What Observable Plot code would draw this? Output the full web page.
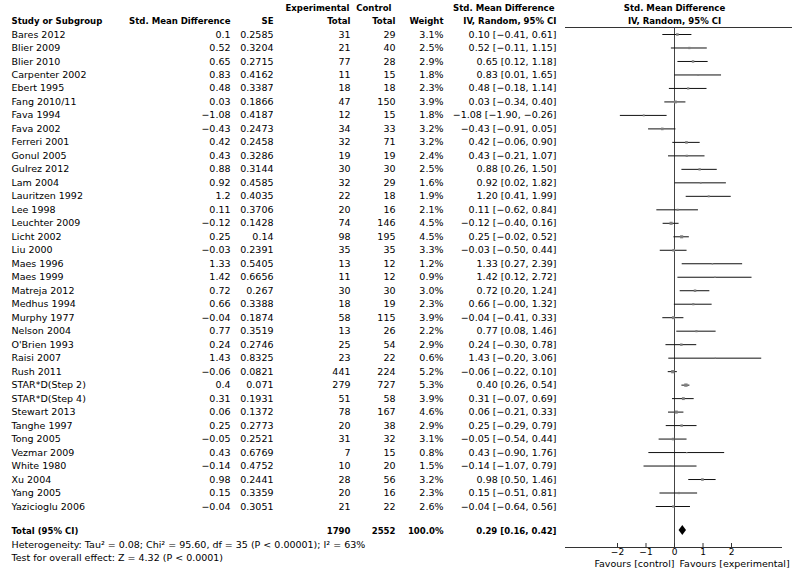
<!DOCTYPE html>
<html><head><meta charset="utf-8">
<script src="https://cdn.jsdelivr.net/npm/d3@7"></script>
<script src="https://cdn.jsdelivr.net/npm/@observablehq/plot@0.6"></script>
<style>html,body{margin:0;padding:0;background:#fff} svg{display:block}</style>
</head><body><div id="chart"></div>
<script>
// ---------- data ----------
const studies = ["Bares 2012","Blier 2009","Blier 2010","Carpenter 2002","Ebert 1995","Fang 2010/11","Fava 1994","Fava 2002","Ferreri 2001","Gonul 2005","Gulrez 2012","Lam 2004","Lauritzen 1992","Lee 1998","Leuchter 2009","Licht 2002","Liu 2000","Maes 1996","Maes 1999","Matreja 2012","Medhus 1994","Murphy 1977","Nelson 2004","O'Brien 1993","Raisi 2007","Rush 2011","STAR*D(Step 2)","STAR*D(Step 4)","Stewart 2013","Tanghe 1997","Tong 2005","Vezmar 2009","White 1980","Xu 2004","Yang 2005","Yazicioglu 2006"];
const smd = [0.1,0.52,0.65,0.83,0.48,0.03,-1.08,-0.43,0.42,0.43,0.88,0.92,1.2,0.11,-0.12,0.25,-0.03,1.33,1.42,0.72,0.66,-0.04,0.77,0.24,1.43,-0.06,0.4,0.31,0.06,0.25,-0.05,0.43,-0.14,0.98,0.15,-0.04];
const se = [0.2585,0.3204,0.2715,0.4162,0.3387,0.1866,0.4187,0.2473,0.2458,0.3286,0.3144,0.4585,0.4035,0.3706,0.1428,0.14,0.2391,0.5405,0.6656,0.267,0.3388,0.1874,0.3519,0.2746,0.8325,0.0821,0.071,0.1931,0.1372,0.2773,0.2521,0.6769,0.4752,0.2441,0.3359,0.3051];
const expTotal = [31,21,77,11,18,47,12,34,32,19,30,32,22,20,74,98,35,13,11,30,18,58,13,25,23,441,279,51,78,20,31,7,10,28,20,21];
const ctrlTotal = [29,40,28,15,18,150,15,33,71,19,30,29,18,16,146,195,35,12,12,30,19,115,26,54,22,224,727,58,167,38,32,15,20,56,16,22];
const weight = [3.1,2.5,2.9,1.8,2.3,3.9,1.8,3.2,3.2,2.4,2.5,1.6,1.9,2.1,4.5,4.5,3.3,1.2,0.9,3.0,2.3,3.9,2.2,2.9,0.6,5.2,5.3,3.9,4.6,2.9,3.1,0.8,1.5,3.2,2.3,2.6];
const ciLow = [-0.41,-0.11,0.12,0.01,-0.18,-0.34,-1.90,-0.91,-0.06,-0.21,0.26,0.02,0.41,-0.62,-0.40,-0.02,-0.50,0.27,0.12,0.20,-0.004,-0.41,0.08,-0.30,-0.20,-0.22,0.26,-0.07,-0.21,-0.29,-0.54,-0.90,-1.07,0.50,-0.51,-0.64];
const ciHigh = [0.61,1.15,1.18,1.65,1.14,0.40,-0.26,0.05,0.90,1.07,1.50,1.82,1.99,0.84,0.16,0.52,0.44,2.39,2.72,1.24,1.32,0.33,1.46,0.78,3.06,0.10,0.54,0.69,0.33,0.79,0.44,1.76,0.79,1.46,0.81,0.56];

const totalLabel = "Total (95% CI)";
const totalExp = 1790, totalCtrl = 2552, totalWeight = 100.0;
const totalEst = 0.29, totalLow = 0.16, totalHigh = 0.42;
const heterogeneity = "Heterogeneity: Tau\u00B2 = 0.08; Chi\u00B2 = 95.60, df = 35 (P < 0.00001); I\u00B2 = 63%";
const overallTest = "Test for overall effect: Z = 4.32 (P < 0.0001)";
const xTicks = [-2, -1, 0, 1, 2];
const favoursLeft = "Favours [control]";
const favoursRight = "Favours [experimental]";
const headTop = ["Experimental", "Control", "Std. Mean Difference", "Std. Mean Difference"];
const headBottom = ["Study or Subgroup", "Std. Mean Difference", "SE", "Total", "Total", "Weight", "IV, Random, 95% CI", "IV, Random, 95% CI"];

// ---------- layout ----------
const W = 792, H = 573, ML = 565, MR = 11, MT = 27, MB = 26;
const FONT = "DejaVu Sans", FS = 9.5;
const BOLDFONT = "'DejaVu Sans Condensed', 'DejaVu Sans'";
const colName = 11, colSmd = 230, colSe = 273, colExp = 350, colCtrl = 395, colW = 443, colCi = 556;
const off = x => x - ML;
const minus = "\u2212";
const fmt2 = v => (v < 0 ? minus : "") + Math.abs(v).toFixed(2);
const raw = v => (v < 0 ? minus : "") + String(Math.abs(v));
const ciText = (e, l, h) => `${fmt2(e)} [${fmt2(l)}, ${fmt2(h)}]`;

const rows = studies.map((s, i) => ({
  i, study: s, smd: smd[i], se: se[i], exp: expTotal[i], ctrl: ctrlTotal[i],
  w: weight[i], lo: ciLow[i], hi: ciHigh[i]
}));
const totalRow = studies.length;       // row index of the Total line
const totalShift = 10.5;               // extra gap before Total (px)
const total = [{i: totalRow, label: totalLabel, exp: totalExp, ctrl: totalCtrl, w: totalWeight, est: totalEst, lo: totalLow, hi: totalHigh}];

const col = (data, x, text, extra = {}) => Plot.text(data, {
  y: "i", text, frameAnchor: "left", dx: off(x),
  textAnchor: extra.anchor || "end", fontSize: FS, fill: "#000", ...extra
});
const bold = {fontWeight: "bold", fontFamily: BOLDFONT};

const headerCol = (label, row, x, anchor = "end") => Plot.text([label], {
  y: () => row, text: d => d, frameAnchor: "left", dx: off(x), textAnchor: anchor,
  fontSize: FS, fill: "#000", ...bold
});
const headerCenter = (label, row) => Plot.text([label], {
  y: () => row, x: () => 0, text: d => d, textAnchor: "middle",
  fontSize: FS, fill: "#000", ...bold
});

const d = 0.37; // diamond half-height in rows
const diamond = [
  {y: totalRow - d, x1: totalEst, x2: totalEst},
  {y: totalRow, x1: totalLow, x2: totalHigh},
  {y: totalRow + d, x1: totalEst, x2: totalEst}
];

const chart = Plot.plot({
  width: W, height: H,
  marginLeft: ML, marginRight: MR, marginTop: MT, marginBottom: MB,
  style: {fontFamily: FONT, fontSize: FS + "px", background: "#fff", color: "#000"},
  x: {domain: [-3.825, 3.754], axis: null},
  y: {domain: [0, studies.length - 1], range: [34, 506], axis: null},
  r: {range: [0, 1.9]},
  marks: [
    Plot.frame({anchor: "top", insetRight: -MR, stroke: "#333"}),
    Plot.frame({anchor: "bottom", stroke: "#333"}),
    Plot.ruleX([0], {stroke: "#444"}),
    // confidence intervals and point estimates
    Plot.ruleY(rows, {y: "i", x1: "lo", x2: "hi", stroke: "#111", strokeWidth: 1}),
    Plot.dot(rows, {x: "smd", y: "i", r: "w", symbol: "square", fill: "#808080", stroke: null}),
    Plot.areaX(diamond, {y: "y", x1: "x1", x2: "x2", dy: totalShift, fill: "#000", curve: "linear"}),
    // axis
    Plot.axisX({ticks: xTicks, tickSize: 4, dy: -4, tickPadding: 1, fontSize: 9, stroke: "#333", fill: "#000",
      tickFormat: v => (v < 0 ? minus : "") + Math.abs(v)}),
    Plot.text([favoursLeft], {x: () => 0, text: d => d, frameAnchor: "bottom", dy: 19, dx: 0, textAnchor: "end", fontSize: FS, fill: "#000"}),
    Plot.text([favoursRight], {x: () => 0, text: d => d, frameAnchor: "bottom", dy: 19, dx: 5, textAnchor: "start", fontSize: FS, fill: "#000"}),
    // headers
    headerCol(headTop[0], -2, 349),
    headerCol(headTop[1], -2, 391),
    headerCol(headTop[2], -2, 554),
    headerCenter(headTop[3], -2),
    headerCol(headBottom[0], -1, colName, "start"),
    headerCol(headBottom[1], -1, colSmd),
    headerCol(headBottom[2], -1, colSe),
    headerCol(headBottom[3], -1, colExp),
    headerCol(headBottom[4], -1, colCtrl),
    headerCol(headBottom[5], -1, colW),
    headerCol(headBottom[6], -1, colCi),
    headerCenter(headBottom[7], -1),
    // table rows
    col(rows, colName, "study", {anchor: "start"}),
    col(rows, colSmd, d => raw(d.smd)),
    col(rows, colSe, d => String(d.se)),
    col(rows, colExp, d => String(d.exp)),
    col(rows, colCtrl, d => String(d.ctrl)),
    col(rows, colW, d => d.w.toFixed(1) + "%"),
    col(rows, colCi, d => ciText(d.smd, d.lo, d.hi)),
    // total row
    col(total, colName, "label", {anchor: "start", dy: totalShift, ...bold}),
    col(total, colExp, d => String(d.exp), {dy: totalShift, ...bold}),
    col(total, colCtrl, d => String(d.ctrl), {dy: totalShift, ...bold}),
    col(total, colW, d => d.w.toFixed(1) + "%", {dy: totalShift, ...bold}),
    col(total, colCi, d => ciText(d.est, d.lo, d.hi), {dy: totalShift, ...bold}),
    // footer
    Plot.text([heterogeneity], {text: d => d, frameAnchor: "bottom-left", dx: off(colName), dy: 0, textAnchor: "start", fontSize: FS, fill: "#000"}),
    Plot.text([overallTest], {text: d => d, frameAnchor: "bottom-left", dx: off(colName), dy: 13, textAnchor: "start", fontSize: FS, fill: "#000"})
  ]
});
document.getElementById("chart").append(chart);
</script>
</body></html>
